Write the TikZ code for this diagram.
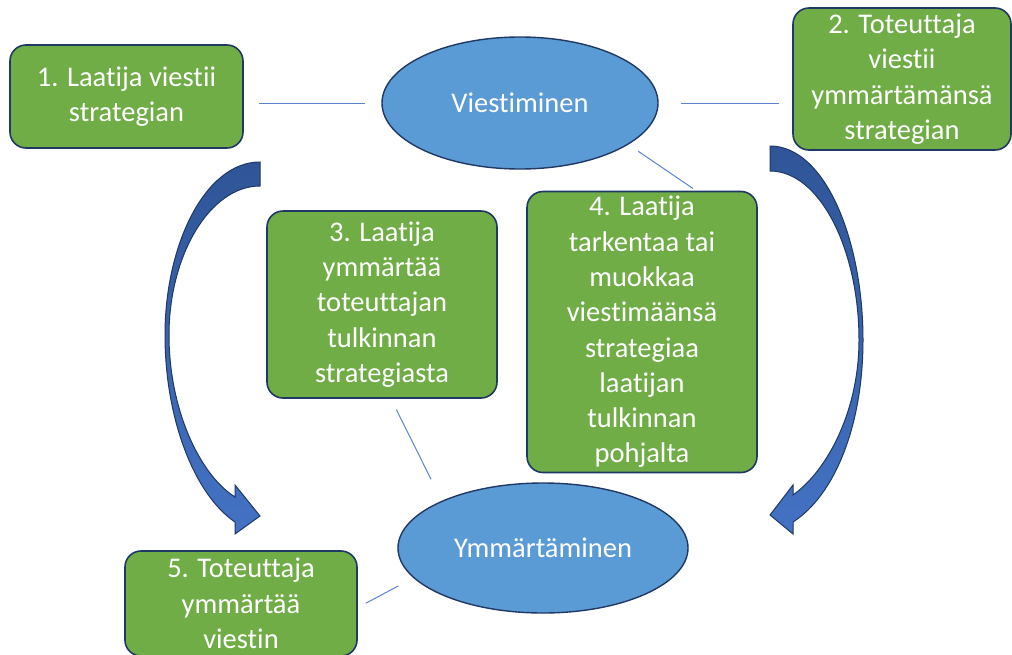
\documentclass[tikz,border=0pt]{standalone}
\usepackage{fontspec}
\setmainfont{Carlito}[Ligatures={NoCommon}]
\usetikzlibrary{shapes.geometric}
\definecolor{boxgreen}{HTML}{70AD47}
\definecolor{navy}{HTML}{1F3864}
\definecolor{ellblue}{HTML}{5B9BD5}
\definecolor{linkblue}{HTML}{5B84D0}
\definecolor{arrtop}{HTML}{2F5597}
\definecolor{arrbot}{HTML}{4472C4}
\begin{document}
\begin{tikzpicture}[x=1pt,y=-1pt,
  stepbox/.style={draw=navy,line width=1.6pt,fill=boxgreen,rounded corners=16pt,
    text=white,align=center,inner sep=0pt,font=\fontsize{28.5}{35.3}\selectfont},
  ell/.style={ellipse,draw=navy,line width=1.4pt,fill=ellblue,inner sep=0pt,
    text=white,font=\fontsize{28.5}{35}\selectfont},
  link/.style={draw=linkblue,line width=1pt},
  bigarrow/.style={top color=arrtop,bottom color=arrbot,draw=navy,line width=1pt}]
\useasboundingbox (0,0) rectangle (1012,654);
\fill[white] (0,0) rectangle (1012,654);

% curved arrows
\shadedraw[bigarrow] (260,162) .. controls (205,162) and (165,245) .. (165,335)
  .. controls (165,420) and (195,495) .. (235,522) -- (235,534) -- (260,516) -- (235,485) -- (235,497)
  .. controls (200,475) and (169,410) .. (169,335)
  .. controls (169,255) and (210,186) .. (260,186) -- cycle;
\shadedraw[bigarrow] (770,146) .. controls (825,146) and (863,240) .. (863,340)
  .. controls (863,425) and (835,495) .. (793,522) -- (793,534) -- (770,515) -- (793,485) -- (793,495)
  .. controls (828,470) and (859,410) .. (859,340)
  .. controls (859,250) and (820,171) .. (770,171) -- cycle;

% ellipses
\node[ell,minimum width=276pt,minimum height=132pt] (v) at (520,103) {Viestiminen};
\node[ell,minimum width=290pt,minimum height=130pt] (y) at (543,548) {Ymmärtäminen};

% boxes
\node[stepbox,minimum width=233pt,minimum height=103pt] (b1) at (126.5,96.5)
  {1. Laatija viestii\\strategian};
\node[stepbox,minimum width=218pt,minimum height=142pt] (b2) at (902,79)
  {2. Toteuttaja\\viestii\\ymmärtämänsä\\strategian};
\node[stepbox,minimum width=230pt,minimum height=187pt] (b3) at (382,304.5)
  {3. Laatija\\ymmärtää\\toteuttajan\\tulkinnan\\strategiasta};
\node[stepbox,minimum width=230pt,minimum height=281pt] (b4) at (642,332)
  {4. Laatija\\tarkentaa tai\\muokkaa\\viestimäänsä\\strategiaa\\laatijan\\tulkinnan\\pohjalta};
\node[stepbox,minimum width=232pt,minimum height=105pt] (b5) at (241,603.5)
  {5. Toteuttaja\\ymmärtää\\viestin};

% connectors
\draw[link,shorten <=15pt,shorten >=16pt] (b1.east |- v.west) -- (v.west);
\draw[link,shorten <=22pt,shorten >=13pt] (v.east) -- (b2.west |- v.east);
\draw[link,shorten <=12pt,shorten >=4pt] (v.-21) -- ([xshift=170pt]b4.north west);
\draw[link,shorten <=12pt,shorten >=24pt] ([xshift=9pt]b3.south) -- (y.155);
\draw[link,shorten <=9pt,shorten >=17pt] ([yshift=-4pt]b5.east) -- (y.193);
\end{tikzpicture}
\end{document}
